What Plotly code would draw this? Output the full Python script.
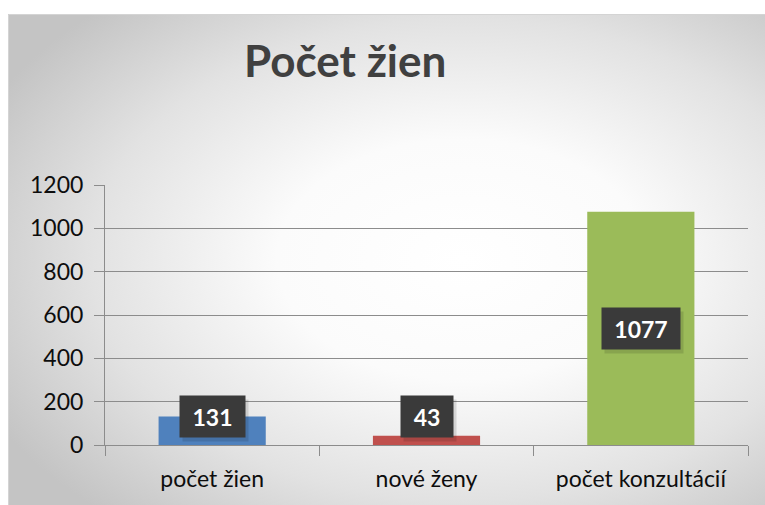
import base64
import plotly.graph_objects as go

categories = ["počet žien", "nové ženy", "počet konzultácií"]
values = [131, 43, 1077]
colors = ["#4F81BD", "#C0504D", "#9BBB59"]
y_ticks = [0, 200, 400, 600, 800, 1000, 1200]

W, H = 765, 505
ML, MR, MT, MB = 105, 17, 185, 60
PW, PH = W - ML - MR, H - MT - MB

svg = f'''<svg xmlns="http://www.w3.org/2000/svg" width="{W}" height="{H}" viewBox="0 0 {W} {H}" preserveAspectRatio="none">
<defs><radialGradient id="g" cx="0.6" cy="0.5" r="0.7" gradientUnits="objectBoundingBox">
<stop offset="0" stop-color="#ffffff"/><stop offset="0.35" stop-color="#fbfbfb"/><stop offset="0.7" stop-color="#e2e2e2"/><stop offset="1" stop-color="#c4c4c4"/></radialGradient></defs>
<rect x="0" y="0" width="{W}" height="{H}" fill="#ffffff"/>
<rect x="8" y="14" width="{W - 8}" height="{H - 14}" fill="url(#g)"/>
<path d="M8.5 {H} V14.5 H{W}" fill="none" stroke="#d4d4d4" stroke-width="1"/>
</svg>'''
src = "data:image/svg+xml;base64," + base64.b64encode(svg.encode()).decode()

fig = go.Figure()
fig.add_trace(go.Bar(
    x=categories, y=values, marker=dict(color=colors, line=dict(width=0)),
    width=0.5, hoverinfo="skip", showlegend=False,
))

label_font = dict(family="Lato, Open Sans, sans-serif", size=23, color="white")
for c, v in zip(categories, values):
    ypos = max(v / 2, 131)
    bw = len(str(v)) * 13 + 18
    fig.add_annotation(x=c, y=ypos, xref="x", yref="y", text=" ",
                       showarrow=False, bgcolor="rgba(0,0,0,0.12)",
                       width=bw, height=33, borderpad=4,
                       xshift=3, yshift=-4)
    fig.add_annotation(x=c, y=ypos, xref="x", yref="y", text=f"<b>{v}</b>",
                       showarrow=False, bgcolor="#3a3a3a", font=label_font,
                       width=bw, height=33, borderpad=4)

fig.add_annotation(x=(345 - ML) / PW, y=(H - 60 - MB) / PH, xref="paper", yref="paper",
                   text="<b>Počet žien</b>", showarrow=False,
                   font=dict(family="Lato, Open Sans, sans-serif", size=44, color="#404040"),
                   xanchor="center", yanchor="middle")

fig.add_layout_image(dict(source=src, xref="paper", yref="paper",
                          x=-ML / PW, y=1 + MT / PH, sizex=W / PW, sizey=H / PH,
                          xanchor="left", yanchor="top", sizing="stretch", layer="below"))

fig.update_layout(
    width=W, height=H,
    margin=dict(l=ML, r=MR, t=MT, b=MB),
    paper_bgcolor="rgba(0,0,0,0)", plot_bgcolor="rgba(0,0,0,0)",
    bargap=0.5,
    font=dict(family="Lato, Open Sans, sans-serif", size=23, color="#0d0d0d"),
)
fig.update_yaxes(range=[0, 1200], tickvals=y_ticks, showgrid=True, gridcolor="#8c8c8c",
                 gridwidth=1, showline=True, linecolor="#8c8c8c", ticks="outside",
                 ticklen=10, tickcolor="#8c8c8c", ticklabelstandoff=6, zeroline=False,
                 tickfont=dict(size=23))
fig.update_xaxes(showline=True, linecolor="#8c8c8c", ticks="outside", tickson="boundaries",
                 ticklen=10, tickcolor="#8c8c8c", ticklabelstandoff=13,
                 tickfont=dict(size=23))

fig.write_html("out.html", config={"displayModeBar": False},
               post_script="document.body.style.margin='0';document.body.style.overflow='hidden';")
